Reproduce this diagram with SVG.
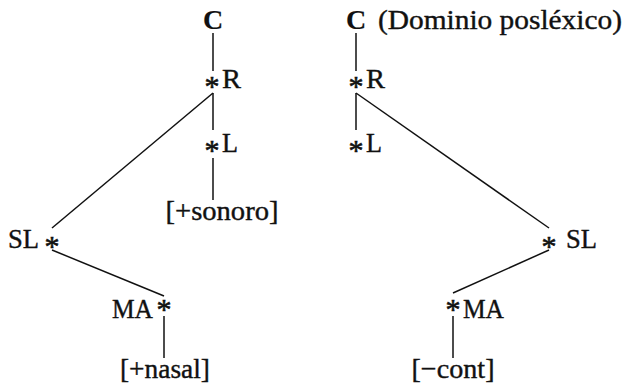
<svg xmlns="http://www.w3.org/2000/svg" width="631" height="383" viewBox="0 0 631 383">
<style>
text{font-family:"Liberation Serif","Times New Roman",serif;font-size:28px;fill:#111;stroke:#111;stroke-width:0.4;}
.ast{font-size:30px;text-anchor:middle;stroke-width:0.6;}
.mid{text-anchor:middle;}
.b{font-weight:bold;stroke-width:0.2;}
#connectors line{stroke:#111;stroke-width:1.5;fill:none;}
</style>
<rect width="631" height="383" fill="#fff"/>
<g id="connectors">
<line x1="213" y1="33" x2="213" y2="71"/>
<line x1="213" y1="93" x2="213" y2="130"/>
<line x1="213" y1="93" x2="52" y2="228"/>
<line x1="213" y1="158" x2="213" y2="200"/>
<line x1="52" y1="250" x2="164" y2="296"/>
<line x1="164" y1="316" x2="164" y2="358"/>
<line x1="356" y1="33" x2="356" y2="71"/>
<line x1="356" y1="93" x2="356" y2="130"/>
<line x1="356" y1="93" x2="549" y2="228"/>
<line x1="549" y1="250" x2="453" y2="293"/>
<line x1="453" y1="316" x2="453" y2="358"/>
</g>
<g id="left-C"><text class="mid b" x="213" y="29">C</text></g>
<g id="left-R"><text class="ast" x="212" y="96">*</text><text x="222" y="88" textLength="19" lengthAdjust="spacingAndGlyphs">R</text></g>
<g id="left-L"><text class="ast" x="212" y="160">*</text><text x="222" y="152" textLength="16" lengthAdjust="spacingAndGlyphs">L</text></g>
<g id="left-sonoro"><text class="mid" x="222" y="220" textLength="113" lengthAdjust="spacingAndGlyphs">[+sonoro]</text></g>
<g id="left-SL"><text x="8" y="248" textLength="31" lengthAdjust="spacingAndGlyphs">SL</text><text class="ast" x="52" y="256">*</text></g>
<g id="left-MA"><text x="112" y="318" textLength="41" lengthAdjust="spacingAndGlyphs">MA</text><text class="ast" x="164" y="319">*</text></g>
<g id="left-nasal"><text class="mid" x="165" y="378" textLength="90" lengthAdjust="spacingAndGlyphs">[+nasal]</text></g>
<g id="right-C"><text class="mid b" x="356" y="29">C</text><text x="378" y="29" textLength="244" lengthAdjust="spacingAndGlyphs">(Dominio posléxico)</text></g>
<g id="right-R"><text class="ast" x="356" y="96">*</text><text x="366" y="88" textLength="19" lengthAdjust="spacingAndGlyphs">R</text></g>
<g id="right-L"><text class="ast" x="356" y="160">*</text><text x="366" y="152" textLength="16" lengthAdjust="spacingAndGlyphs">L</text></g>
<g id="right-SL"><text class="ast" x="549" y="256">*</text><text x="566" y="248" textLength="31" lengthAdjust="spacingAndGlyphs">SL</text></g>
<g id="right-MA"><text class="ast" x="453" y="319">*</text><text x="463" y="318" textLength="41" lengthAdjust="spacingAndGlyphs">MA</text></g>
<g id="right-cont"><text class="mid" x="453" y="378" textLength="83" lengthAdjust="spacingAndGlyphs">[−cont]</text></g>
</svg>
